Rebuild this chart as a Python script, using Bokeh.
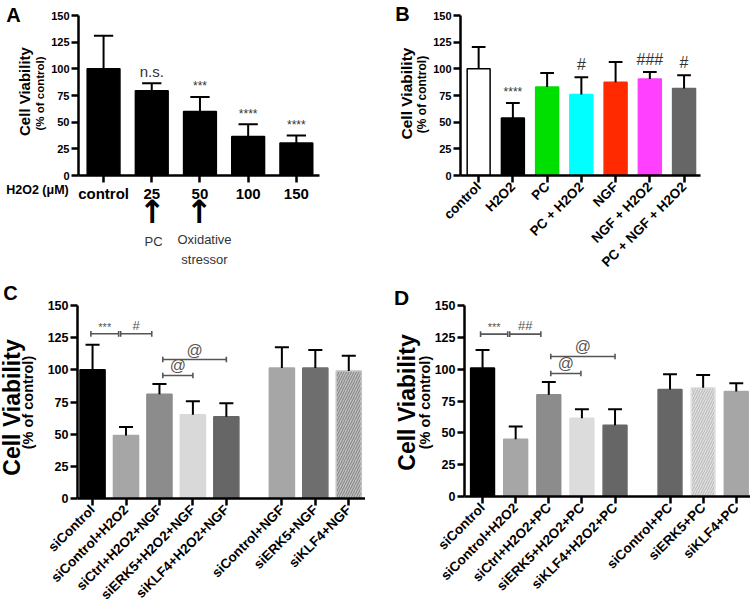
import math
from bokeh.plotting import figure
from bokeh.models import Range1d, FixedTicker, Label, ColumnDataSource
from bokeh.layouts import column, row
from bokeh.embed import file_html
from bokeh.resources import INLINE
from bokeh.core.properties import value

FONT = "Liberation Sans"
Y_TICKS = [0, 25, 50, 75, 100, 125, 150]

# ---------------- Panel A ----------------
a_cats = ["control", "25", "50", "100", "150"]
a_vals = [100, 79.5, 60, 36.5, 30.5]
a_errs = [131, 86.5, 73.5, 48, 37.5]
a_marks = ["", "n.s.", "***", "****", "****"]

# ---------------- Panel B ----------------
b_cats = ["control", "H2O2", "PC", "PC + H2O2", "NGF", "NGF + H2O2", "PC + NGF + H2O2"]
b_vals = [100, 54, 83, 76, 87.5, 90.5, 81.5]
b_errs = [120.5, 68, 96, 92, 106.5, 97, 94]
b_marks = ["", "****", "", "#", "", "###", "#"]
b_colors = ["#ffffff", "#000000", "#00e000", "#00ffff", "#ff2a00", "#ff40ff", "#666666"]

# ---------------- Panel C ----------------
c_cats = ["siControl", "siControl+H2O2", "siCtrl+H2O2+NGF", "siERK5+H2O2+NGF",
          "siKLF4+H2O2+NGF", "siControl+NGF", "siERK5+NGF", "siKLF4+NGF"]
c_group = [0, 0, 0, 0, 0, 1, 1, 1]
c_vals = [100, 49, 81, 65, 63.5, 101.5, 101.5, 99]
c_errs = [119.5, 55.5, 89, 75.5, 74, 117.5, 115.5, 111]
c_colors = ["#000000", "#a6a6a6", "#8c8c8c", "#d9d9d9", "#666666", "#a6a6a6", "#6e6e6e", "#c4c4c4"]
c_hatch = [" ", " ", " ", " ", " ", " ", " ", "right_diagonal_line"]
c_hatch_colors = ["#000000"] * 7 + ["#8a8a8a"]
c_brackets = [(-0.05, 0.78, 128, "***"), (0.84, 1.77, 128, "#"),
              (2.1, 4.0, 108, "@"), (2.1, 3.0, 95.6, "@")]

# ---------------- Panel D ----------------
d_cats = ["siControl", "siControl+H2O2", "siCtrl+H2O2+PC", "siERK5+H2O2+PC",
          "siKLF4+H2O2+PC", "siControl+PC", "siERK5+PC", "siKLF4+PC"]
d_group = [0, 0, 0, 0, 0, 1, 1, 1]
d_vals = [101, 45, 80, 61.5, 56, 84, 85.5, 82.5]
d_errs = [115, 55, 90, 68.5, 68.5, 96, 95.5, 89]
d_colors = ["#000000", "#a6a6a6", "#8c8c8c", "#dcdcdc", "#666666", "#666666", "#e2e2e2", "#a6a6a6"]
d_hatch = [" ", " ", " ", " ", " ", " ", "right_diagonal_line", " "]
d_hatch_colors = ["#000000"] * 6 + ["#bdbdbd", "#000000"]
d_brackets = [(-0.06, 0.76, 127.5, "***"), (0.82, 1.76, 127.5, "##"),
              (2.06, 4.0, 110, "@"), (2.06, 2.97, 96.6, "@")]

GROUP_GAP = 0.66


def base_fig(frame_w, frame_h, borders, xr, xs, cats, xlabel_size, ylabel_size, orient):
    left, top, right, bottom = borders
    p = figure(frame_width=frame_w, frame_height=frame_h,
               min_border_left=left, min_border_top=top,
               min_border_right=right, min_border_bottom=bottom,
               x_range=Range1d(*xr), y_range=Range1d(0, 150),
               output_backend="svg", toolbar_location=None)
    p.outline_line_color = None
    p.xgrid.visible = False
    p.ygrid.visible = False
    p.background_fill_color = "white"
    p.border_fill_color = "white"
    for ax in (p.xaxis[0], p.yaxis[0]):
        ax.axis_line_width = 2.5
        ax.axis_line_color = "black"
        ax.major_tick_line_width = 2.5
        ax.major_tick_line_color = "black"
        ax.major_tick_out = 7
        ax.major_tick_in = 0
        ax.minor_tick_line_color = None
        ax.major_label_text_font = FONT
        ax.major_label_text_font_style = "bold"
        ax.major_label_text_color = "black"
        ax.major_label_standoff = 2
    p.yaxis[0].ticker = FixedTicker(ticks=Y_TICKS)
    p.yaxis[0].major_label_text_font_size = ylabel_size
    p.xaxis[0].ticker = FixedTicker(ticks=list(xs))
    p.xaxis[0].major_label_overrides = {x: c for x, c in zip(xs, cats)}
    p.xaxis[0].major_label_text_font_size = xlabel_size
    p.xaxis[0].major_label_orientation = orient
    return p


def place(p, geom, side, text, px, py, size, bold=True, angle=0.0, color="black",
          font=FONT, align="center", line_height=1.2):
    """Put a text label at a page position (converted to data units through the
    panel's frame geometry); the label lives in a side panel so it is not clipped."""
    left, top, w, h, x0, x1 = geom
    x = x0 + (px - left) / w * (x1 - x0)
    y = 150.0 * (top + h - py) / h
    p.add_layout(Label(x=x, y=y, x_units="data", y_units="data", text=text, angle=angle,
                       text_font=font, text_font_size=size,
                       text_font_style="bold" if bold else "normal",
                       text_align=align, text_baseline="middle", text_color=color,
                       text_line_height=line_height), side)


def add_bars(p, xs, vals, errs, colors, line_colors, width, cap,
             hatch=None, hatch_colors=None):
    n = len(xs)
    src = ColumnDataSource(dict(
        x=list(xs), top=vals, err=errs, color=colors, line=line_colors,
        x0=[x - cap for x in xs], x1=[x + cap for x in xs],
        hatch=hatch if hatch else [" "] * n,
        hcol=hatch_colors if hatch_colors else ["#000000"] * n))
    p.vbar(x="x", top="top", bottom=0, width=width, fill_color="color",
           line_color="line", line_width=1.5, hatch_pattern="hatch",
           hatch_color="hcol", hatch_scale=5, hatch_weight=1.2, source=src)
    p.segment(x0="x", y0="top", x1="x", y1="err", line_width=2, color="black", source=src)
    p.segment(x0="x0", y0="err", x1="x1", y1="err", line_width=2, color="black", source=src)


def add_marks(p, xs, errs, marks, offset, big_size, small_size, color="#333333"):
    src = ColumnDataSource(dict(
        x=list(xs), y=[e + offset for e in errs], t=marks,
        fs=[small_size if m.startswith("*") else big_size for m in marks]))
    p.text(x="x", y="y", text="t", text_font=value(FONT), text_font_size="fs",
           text_align="center", text_baseline="bottom", text_color=color, source=src)


def add_brackets(p, brackets, tick_h, color="#555555"):
    hx0, hx1, hy, vx, vy0, vy1, tx, ty, tt, fs = [], [], [], [], [], [], [], [], [], []
    for s, e, y, lab in brackets:
        hx0.append(s); hx1.append(e); hy.append(y)
        for xx in (s, e):
            vx.append(xx); vy0.append(y - tick_h); vy1.append(y + tick_h)
        tx.append((s + e) / 2); ty.append(y + 0.8); tt.append(lab)
        fs.append("11px" if lab.startswith("*") else ("16px" if lab == "@" else "13px"))
    p.segment(x0=hx0, y0=hy, x1=hx1, y1=hy, line_width=1.6, color=color)
    p.segment(x0=vx, y0=vy0, x1=vx, y1=vy1, line_width=1.6, color=color)
    src = ColumnDataSource(dict(x=tx, y=ty, t=tt, fs=fs))
    p.text(x="x", y="y", text="t", text_font=value(FONT), text_font_size="fs",
           text_align="center", text_baseline="bottom", text_color=color, source=src)


ROT = math.pi / 2

# ================= Figure A =================
A_GEOM = (78, 14, 241, 160, -0.52, 4.48)
a_x = list(range(len(a_cats)))
pa = base_fig(241, 160, (78, 14, 58, 106), (-0.52, 4.48), a_x, a_cats, "15px", "11px", "horizontal")
add_bars(pa, a_x, a_vals, a_errs, ["#000000"] * 5, ["#000000"] * 5, 0.68, 0.2)
add_marks(pa, a_x, a_errs, a_marks, 3.5, "15px", "12px")
place(pa, A_GEOM, "left", "A", 13, 13, "20px")
place(pa, A_GEOM, "left", "Cell Viability", 23.5, 90, "15px", angle=ROT)
place(pa, A_GEOM, "left", "(% of control)", 39, 92, "11.5px", angle=ROT)
place(pa, A_GEOM, "below", "H2O2 (μM)", 37, 188, "12.5px")
place(pa, A_GEOM, "right", "↑", 152, 210, "32px", font="DejaVu Sans")
place(pa, A_GEOM, "right", "↑", 199, 210, "32px", font="DejaVu Sans")
place(pa, A_GEOM, "below", "PC", 153, 240, "13px", bold=False, color="#333333")
place(pa, A_GEOM, "below", "Oxidative\nstressor", 204, 248, "13px", bold=False,
      color="#333333", line_height=1.3)

# ================= Figure B =================
B_GEOM = (460, 15, 240, 160, -0.53, 6.48)
b_x = list(range(len(b_cats)))
pb = base_fig(240, 160, (83, 15, 50, 105), (-0.53, 6.48), b_x, b_cats, "13.5px", "11px", math.pi / 4)
b_lines = ["#000000"] + b_colors[1:]
add_bars(pb, b_x, b_vals, b_errs, b_colors, b_lines, 0.67, 0.2)
add_marks(pb, b_x, b_errs, b_marks, 4, "16px", "12px")
place(pb, B_GEOM, "left", "B", 402, 13, "20px")
place(pb, B_GEOM, "left", "Cell Viability", 405.5, 93, "15.5px", angle=ROT)
place(pb, B_GEOM, "left", "(% of control)", 421, 94, "12px", angle=ROT)

# ================= Figure C =================
C_GEOM = (77, 305, 288, 193, -0.45, 8.16)
c_x = [i + GROUP_GAP * g for i, g in enumerate(c_group)]
pc = base_fig(288, 193, (77, 25, 0, 106), (-0.45, 8.16), c_x, c_cats, "13.5px", "12.5px", math.pi / 4)
add_bars(pc, c_x, c_vals, c_errs, c_colors, c_colors, 0.75, 0.21, c_hatch, c_hatch_colors)
add_brackets(pc, c_brackets, 2.2)
place(pc, C_GEOM, "above", "C", 10, 292.5, "20px")
place(pc, C_GEOM, "left", "Cell Viability", 11.5, 407, "23px", angle=ROT)
place(pc, C_GEOM, "left", "(% of control)", 27.5, 402, "14.5px", angle=ROT)

# ================= Figure D =================
D_GEOM = (464, 303, 286, 191, -0.545, 8.09)
d_x = [i + GROUP_GAP * g for i, g in enumerate(d_group)]
pd_ = base_fig(286, 191, (99, 23, 0, 110), (-0.545, 8.09), d_x, d_cats, "13.5px", "12.5px", math.pi / 4)
add_bars(pd_, d_x, d_vals, d_errs, d_colors, d_colors, 0.72, 0.21, d_hatch, d_hatch_colors)
add_brackets(pd_, d_brackets, 2.2)
place(pd_, D_GEOM, "left", "D", 401, 295, "21px")
place(pd_, D_GEOM, "left", "Cell Viability", 406, 400, "23px", angle=ROT)
place(pd_, D_GEOM, "left", "(% of control)", 424.5, 400, "14.5px", angle=ROT)

layout = column(row(pa, pb), row(pc, pd_))
open("out.html", "w").write(file_html(layout, INLINE))
